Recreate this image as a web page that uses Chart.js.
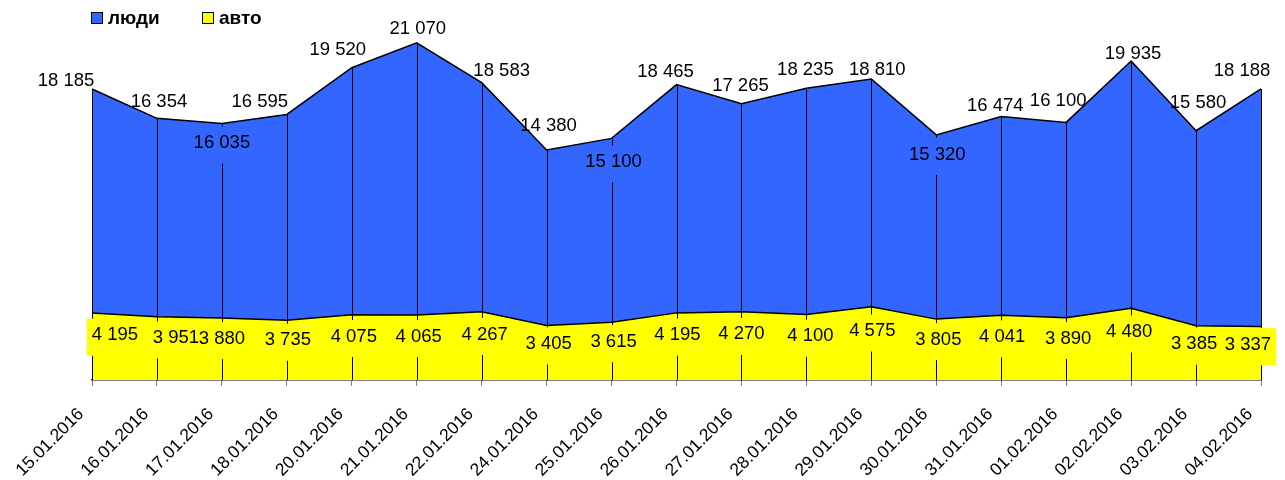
<!DOCTYPE html>
<html><head><meta charset="utf-8">
<script src="https://cdn.jsdelivr.net/npm/chart.js@4.4.1/dist/chart.umd.min.js"></script>
<style>html,body{margin:0;padding:0;background:#fff;}#wrap{width:1285px;height:480px;}</style>
</head><body><div id="wrap"><canvas id="c" width="1285" height="480"></canvas></div>
<script>
const categories = ['15.01.2016','16.01.2016','17.01.2016','18.01.2016','20.01.2016','21.01.2016','22.01.2016','24.01.2016','25.01.2016','26.01.2016','27.01.2016','28.01.2016','29.01.2016','30.01.2016','31.01.2016','01.02.2016','02.02.2016','03.02.2016','04.02.2016'];
const people = [18185,16354,16035,16595,19520,21070,18583,14380,15100,18465,17265,18235,18810,15320,16474,16100,19935,15580,18188];
const cars = [4195,3951,3880,3735,4075,4065,4267,3405,3615,4195,4270,4100,4575,3805,4041,3890,4480,3385,3337];
const seriesNames = ['люди','авто'];

// label placement tweaks (pixels relative to the point), kept apart from the data
const peopleNudge = [[-26,-10],[2,-18],[0,18],[-27,-14],[-14,-19],[1,-16],[20,-13],[2,-26],[2,22],[-11,-14],[-1,-19],[-1,-20],[6,-11],[1,18],[-6,-12],[-8,-23],[2,-9],[2,-29],[-19,-20]];
const carsNudgeX = [23,19,0,1,2,2,3,2,2,1,0,4,1,2,1,2,-2,-2,-13];

const BLUE = '#3366FF', YELLOW = '#FFFF00';
const FONT = '"Liberation Sans", Arial, sans-serif';
const fmt = n => String(n).replace(/\B(?=(\d{3})+(?!\d))/g, ' ');

const overlay = {
  id: 'overlay',
  afterDatasetsDraw(chart) {
    const ctx = chart.ctx, xs = chart.scales.x, ys = chart.scales.y;
    const base = ys.getPixelForValue(0);
    ctx.save();
    // drop lines
    ctx.strokeStyle = '#000'; ctx.lineWidth = 1;
    people.forEach((v, i) => {
      const x = Math.round(xs.getPixelForValue(i)) + 0.5;
      ctx.beginPath(); ctx.moveTo(x, ys.getPixelForValue(v)); ctx.lineTo(x, base); ctx.stroke();
    });
    ctx.font = '18.5px ' + FONT;
    const pItems = [], cItems = [];
    people.forEach((v, i) => {
      const px = xs.getPixelForValue(i), py = ys.getPixelForValue(v);
      const [dx, dy] = peopleNudge[i];
      pItems.push({t: fmt(v), x: px + dx, y: py + dy, bg: dy > 0 ? BLUE : null});
    });
    cars.forEach((v, i) => {
      const px = xs.getPixelForValue(i);
      cItems.push({t: fmt(v), x: px + carsNudgeX[i], y: ys.getPixelForValue(v * 0.69), bg: YELLOW});
    });
    const box = it => {
      const w = ctx.measureText(it.t).width;
      ctx.fillStyle = it.bg;
      ctx.fillRect(it.x - w / 2 - 5, it.y - 15, w + 10, 37);
    };
    pItems.forEach(it => { if (it.bg) box(it); });
    // yellow label boxes stay under the yellow line
    ctx.save();
    ctx.beginPath();
    ctx.moveTo(0, ys.getPixelForValue(cars[0]) + 1);
    cars.forEach((v, i) => ctx.lineTo(xs.getPixelForValue(i), ys.getPixelForValue(v) + 1));
    ctx.lineTo(chart.width, ys.getPixelForValue(cars[cars.length - 1]) + 1);
    ctx.lineTo(chart.width, chart.height); ctx.lineTo(0, chart.height); ctx.closePath();
    ctx.clip();
    cItems.forEach(box);
    ctx.restore();
    ctx.fillStyle = '#000'; ctx.textAlign = 'center'; ctx.textBaseline = 'alphabetic';
    pItems.concat(cItems).forEach(it => ctx.fillText(it.t, it.x, it.y + 18.5 * 0.358));
    ctx.restore();
  },
  afterDraw(chart) {
    const ctx = chart.ctx;
    ctx.save();
    const entries = [[91, BLUE, seriesNames[0]], [202, YELLOW, seriesNames[1]]];
    ctx.font = 'bold 19px ' + FONT; ctx.textBaseline = 'alphabetic'; ctx.textAlign = 'left';
    entries.forEach(([x, c, t]) => {
      ctx.fillStyle = c; ctx.fillRect(x + 0.5, 12.5, 11, 11);
      ctx.strokeStyle = '#000'; ctx.lineWidth = 1; ctx.strokeRect(x + 0.5, 12.5, 11, 11);
      ctx.fillStyle = '#000'; ctx.fillText(t, x + 17, 24);
    });
    ctx.restore();
  }
};

new Chart(document.getElementById('c'), {
  type: 'line',
  data: {
    labels: categories,
    datasets: [
      {label: seriesNames[0], data: people, backgroundColor: BLUE, borderColor: '#000', borderWidth: 1.5, fill: 'origin', pointRadius: 0, tension: 0, order: 2},
      {label: seriesNames[1], data: cars, backgroundColor: YELLOW, borderColor: '#000', borderWidth: 1.5, fill: 'origin', pointRadius: 0, tension: 0, order: 1}
    ]
  },
  options: {
    responsive: false, animation: false,
    layout: {padding: {left: 92, right: 24, top: 28, bottom: 0}},
    plugins: {legend: {display: false}, tooltip: {enabled: false}},
    scales: {
      x: {
        offset: false, z: 1,
        grid: {display: true, drawOnChartArea: false, drawTicks: true, tickLength: 6, color: '#808080', lineWidth: 1},
        border: {display: true, color: '#000', width: 1.5},
        ticks: {color: '#000', font: {family: FONT, size: 17.5}, minRotation: 45, maxRotation: 45, autoSkip: false, padding: 18, labelOffset: -11},
        afterFit(s) { s.height = 100; s.paddingLeft = 0; s.paddingRight = 0; }
      },
      y: {display: false, min: 0, max: 22000}
    }
  },
  plugins: [overlay]
});
</script></body></html>
